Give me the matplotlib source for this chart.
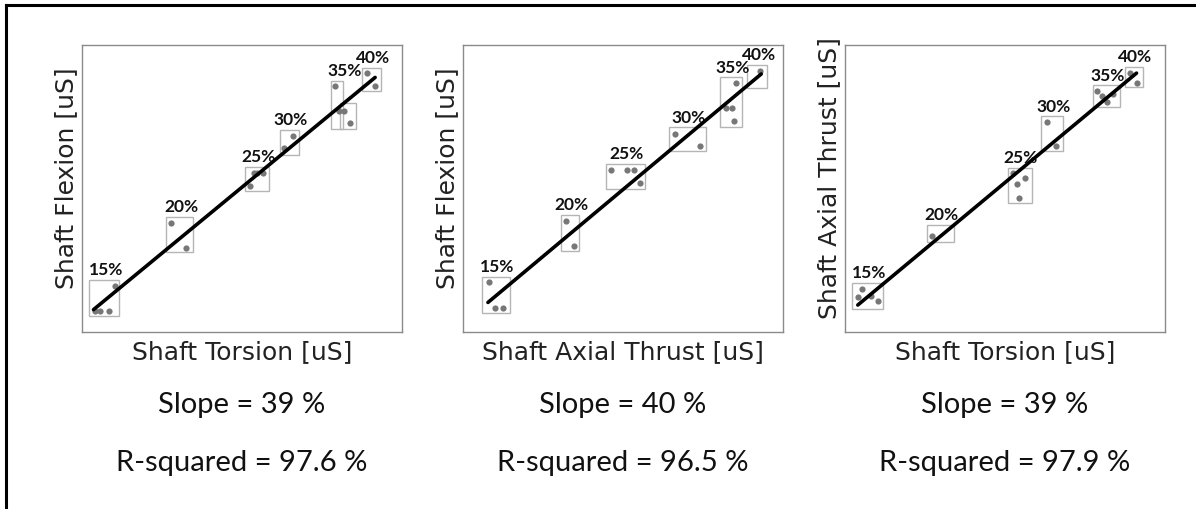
import matplotlib.pyplot as plt
from matplotlib.lines import Line2D
from matplotlib.patches import Rectangle

# Colors
DOT = '#777777'
BOX = '#b5b5b5'
SPINE = '#8a8a8a'

levels = ['15%', '20%', '25%', '30%', '35%', '40%']

# panel 1: shaft torsion vs shaft flexion (0-100 scale)
p1_x = [[4.1, 5.5, 8.3, 10.2], [27.7, 32.6], [52.6, 53.6, 54.6, 56.5],
        [63.1, 65.9], [79.2, 80.4, 82.0, 83.8], [89.0, 91.6]]
p1_y = [[7.4, 7.4, 7.4, 16.1], [38.0, 29.3], [51.0, 55.4, 55.4, 55.3],
        [64.2, 68.4], [85.6, 77.1, 77.1, 72.7], [90.2, 85.6]]
p1_boxes = [[(2.3, 5.5, 11.7, 18.2)], [(26.3, 27.8, 34.7, 40.0)], [(50.8, 49.0, 58.4, 57.4)],
            [(61.8, 61.8, 67.8, 70.4)], [(77.8, 70.7, 81.7, 87.5), (80.6, 70.7, 85.5, 79.7)],
            [(87.4, 83.9, 93.4, 92.0)]]
p1_fit_x = [3.6, 91.6]
p1_fit_y = [7.8, 88.7]

# panel 2: shaft axial thrust vs shaft flexion
p2_x = [[8.0, 9.9, 12.5], [32.3, 34.7], [46.4, 51.4, 53.4, 55.2],
        [66.1, 74.0], [85.4, 82.1, 84.2, 84.7], [92.9]]
p2_y = [[17.3, 8.4, 8.4], [38.8, 30.1], [56.4, 56.4, 56.4, 51.9],
        [69.1, 64.9], [86.6, 77.9, 77.9, 73.6], [91.1]]
p2_boxes = [[(5.9, 6.5, 14.8, 19.3)], [(30.7, 28.3, 36.3, 40.9)], [(44.6, 49.8, 57.0, 58.5)],
            [(64.4, 62.9, 75.8, 71.3)], [(80.4, 71.5, 87.3, 88.7)], [(88.9, 84.9, 95.0, 93.1)]]
p2_fit_x = [7.8, 93.2]
p2_fit_y = [10.3, 89.9]

# panel 3: shaft torsion vs shaft axial thrust
p3_x = [[5.4, 4.0, 8.0, 10.4], [27.3], [52.4, 53.6, 56.4, 54.3],
        [63.0, 65.9], [78.9, 80.4, 82.0, 83.6], [89.1, 91.4]]
p3_y = [[15.0, 12.1, 12.5, 10.7], [33.3], [55.5, 51.7, 53.5, 46.7],
        [73.0, 64.9], [83.8, 82.1, 80.1, 82.9], [90.4, 86.9]]
p3_boxes = [[(2.1, 8.0, 12.0, 17.1)], [(25.5, 31.4, 34.1, 37.4)], [(50.8, 44.8, 58.3, 57.2)],
            [(61.3, 63.1, 68.0, 75.1)], [(77.6, 78.3, 85.9, 85.9)], [(87.5, 85.2, 93.2, 92.3)]]
p3_fit_x = [4.0, 91.1]
p3_fit_y = [9.4, 90.2]

x_labels = ['Shaft Torsion [uS]', 'Shaft Axial Thrust [uS]', 'Shaft Torsion [uS]']
y_labels = ['Shaft Flexion [uS]', 'Shaft Flexion [uS]', 'Shaft Axial Thrust [uS]']
slopes = [39, 40, 39]
r_squared = [97.6, 96.5, 97.9]

panels = [(p1_x, p1_y, p1_boxes, p1_fit_x, p1_fit_y),
          (p2_x, p2_y, p2_boxes, p2_fit_x, p2_fit_y),
          (p3_x, p3_y, p3_boxes, p3_fit_x, p3_fit_y)]
lefts = [82, 463, 845]

fig = plt.figure(figsize=(11.96, 5.10), dpi=100)

for i, (px, py, boxes, fx, fy) in enumerate(panels):
	ax = fig.add_axes([lefts[i] / 1196, 177 / 510, 320 / 1196, 287 / 510])
	for j in range(len(levels)):
		for (x0, y0, x1, y1) in boxes[j]:
			ax.add_patch(Rectangle((x0, y0), x1 - x0, y1 - y0, fill=False,
								   edgecolor=BOX, linewidth=1.0, zorder=2))
		ax.scatter(px[j], py[j], s=20, color=DOT, zorder=3, linewidths=0)
		bx0 = min(b[0] for b in boxes[j])
		bx1 = max(b[2] for b in boxes[j])
		by1 = max(b[3] for b in boxes[j])
		ax.annotate(levels[j], ((bx0 + bx1) / 2, by1), xytext=(1, 2),
					textcoords='offset points', ha='center', va='bottom',
					fontsize=12.5, fontweight='bold', family='Lato', color='#111111')
	ax.plot(fx, fy, color='black', linewidth=2.6, zorder=4, solid_capstyle='round')
	ax.set_xlim(0, 100)
	ax.set_ylim(0, 100)
	ax.set_xticks([])
	ax.set_yticks([])
	for s in ax.spines.values():
		s.set_color(SPINE)
		s.set_linewidth(1.0)
	ax.set_xlabel(x_labels[i], fontsize=18, labelpad=5, color='#222222')
	ax.set_ylabel(y_labels[i], fontsize=18, labelpad=3, color='#222222')
	ax.yaxis.label.set_y(0.54)
	cx = (lefts[i] + 160) / 1196
	fig.text(cx, 1 - 405 / 510, 'Slope = %d %%' % slopes[i], ha='center', va='center',
			 fontsize=21, family='Lato', color='#111111')
	fig.text(cx, 1 - 463 / 510, 'R-squared = %.1f %%' % r_squared[i], ha='center', va='center',
			 fontsize=21, family='Lato', color='#111111')

# outer frame (only top and left edges fall inside the picture)
fig.add_artist(Line2D([6 / 1196, 6 / 1196], [0, 1 - 6 / 510], color='black', linewidth=2.2))
fig.add_artist(Line2D([6 / 1196, 1], [1 - 6 / 510, 1 - 6 / 510], color='black', linewidth=2.2))

fig.savefig('out.png', dpi=100)
